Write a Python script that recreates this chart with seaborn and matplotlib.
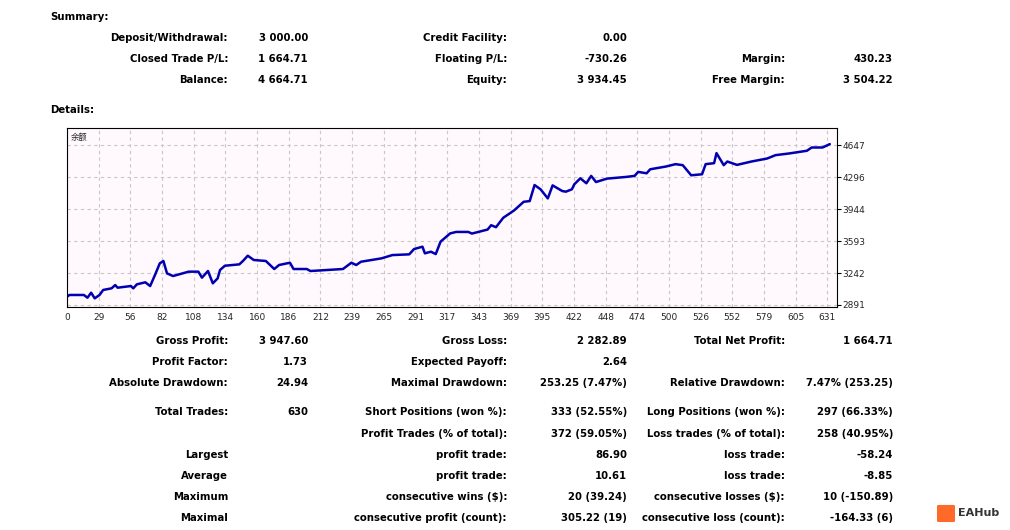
import matplotlib
matplotlib.use("Agg")
import matplotlib.pyplot as plt
import seaborn as sns
import pandas as pd

sns.set_style("white")
plt.rcParams['font.family'] = ['DejaVu Sans', 'Noto Sans CJK SC']

trades = [0,2,14,17,20,23,27,30,37,40,42,53,55,58,65,69,73,77,80,83,88,101,109,112,117,121,125,127,131,143,146,150,155,165,172,176,185,188,199,202,229,236,240,244,261,270,284,288,295,297,302,306,310,318,323,333,336,349,352,356,362,371,379,384,388,393,399,403,411,414,419,421,426,431,435,439,448,464,471,474,481,484,497,505,511,518,527,530,537,539,545,548,556,568,581,588,599,614,618,627,633]
balance = [2982,3001,3001,2971,3026,2964,3001,3056,3074,3110,3081,3099,3074,3118,3140,3099,3220,3348,3374,3238,3209,3257,3257,3191,3264,3129,3183,3275,3322,3337,3374,3432,3385,3374,3286,3330,3355,3286,3286,3264,3286,3355,3330,3366,3403,3439,3447,3505,3531,3458,3476,3450,3586,3677,3693,3693,3675,3719,3767,3745,3848,3929,4024,4032,4208,4161,4061,4204,4142,4135,4161,4216,4282,4227,4308,4241,4278,4297,4308,4352,4337,4381,4411,4437,4426,4315,4326,4437,4448,4558,4426,4466,4429,4466,4499,4536,4554,4584,4620,4620,4657]
x_labels = ["0","29","56","82","108","134","160","186","212","239","265","291","317","343","369","395","422","448","474","500","526","552","579","605","631"]
y_ticks = [2891,3242,3593,3944,4296,4647]

summary = [
    ("Deposit/Withdrawal:", "3 000.00", "Credit Facility:", "0.00", "", ""),
    ("Closed Trade P/L:", "1 664.71", "Floating P/L:", "-730.26", "Margin:", "430.23"),
    ("Balance:", "4 664.71", "Equity:", "3 934.45", "Free Margin:", "3 504.22"),
]
details = [
    (341, "Gross Profit:", "3 947.60", "Gross Loss:", "2 282.89", "Total Net Profit:", "1 664.71"),
    (362, "Profit Factor:", "1.73", "Expected Payoff:", "2.64", "", ""),
    (383, "Absolute Drawdown:", "24.94", "Maximal Drawdown:", "253.25 (7.47%)", "Relative Drawdown:", "7.47% (253.25)"),
    (412, "Total Trades:", "630", "Short Positions (won %):", "333 (52.55%)", "Long Positions (won %):", "297 (66.33%)"),
    (434, "", "", "Profit Trades (% of total):", "372 (59.05%)", "Loss trades (% of total):", "258 (40.95%)"),
    (455, "Largest", "", "profit trade:", "86.90", "loss trade:", "-58.24"),
    (476, "Average", "", "profit trade:", "10.61", "loss trade:", "-8.85"),
    (497, "Maximum", "", "consecutive wins ($):", "20 (39.24)", "consecutive losses ($):", "10 (-150.89)"),
    (518, "Maximal", "", "consecutive profit (count):", "305.22 (19)", "consecutive loss (count):", "-164.33 (6)"),
]

W, H = 1010, 530
fig = plt.figure(figsize=(W/100, H/100), dpi=100)
fig.patch.set_facecolor("white")

def t(x, y, s, ha="right", **kw):
    fig.text(x/W, 1-y/H, s, ha=ha, va="center", fontsize=7.3, fontweight="bold", color="#000000", **kw)

t(50, 17, "Summary:", ha="left")
t(50, 110, "Details:", ha="left")
for i, row in enumerate(summary):
    y = 38 + 21*i
    t(228, y, row[0]); t(308, y, row[1]); t(507, y, row[2]); t(627, y, row[3]); t(785, y, row[4]); t(893, y, row[5])
for row in details:
    y = row[0]
    t(228, y, row[1]); t(308, y, row[2]); t(507, y, row[3]); t(627, y, row[4]); t(785, y, row[5]); t(893, y, row[6])

ax = fig.add_axes([67/W, 1-307/H, (837-67)/W, (307-128)/H])
ax.set_facecolor("#FFF8FD")
df = pd.DataFrame({"trade": trades, "balance": balance})
sns.lineplot(data=df, x="trade", y="balance", ax=ax, color="#0000B0", linewidth=1.8)
ax.set_xlim(0, 639)
ax.set_ylim(2869, 4834)
step = 631/24
ax.set_xticks([i*step for i in range(25)])
ax.set_xticklabels(x_labels)
ax.set_yticks(y_ticks)
ax.yaxis.tick_right()
ax.tick_params(axis="both", labelsize=6.5, length=3, pad=1, color="black")
ax.grid(True, color="#C8C8C8", linestyle=(0, (3, 3)), linewidth=0.8)
for s in ax.spines.values():
    s.set_color("black"); s.set_linewidth(0.8)
ax.set_xlabel(""); ax.set_ylabel("")
ax.text(0.005, 0.97, "余额", transform=ax.transAxes, fontsize=6, ha="left", va="top",
        family=["Noto Sans CJK SC", "DejaVu Sans"])

fig.text(958/W, 1-513/H, "EAHub", ha="left", va="center", fontsize=8, fontweight="bold", color="#333333")
fig.patches.append(matplotlib.patches.FancyBboxPatch((939/W, 1-521/H), 14/W, 15/H,
    boxstyle="round,pad=0.002", transform=fig.transFigure, facecolor="#FF6A2A", edgecolor="none"))

fig.savefig("out.png", dpi=100)
